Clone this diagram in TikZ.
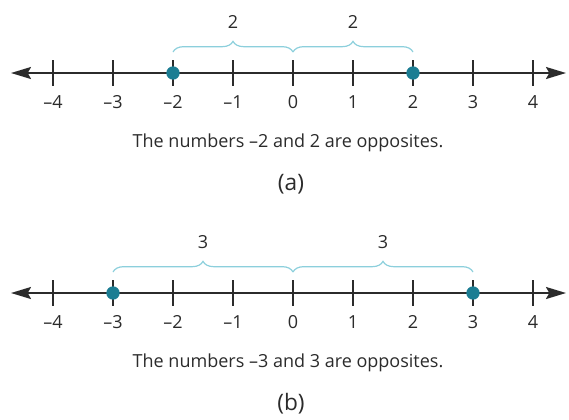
\documentclass[tikz,border=0pt]{standalone}
\usepackage{fontspec}
\setmainfont{Open Sans}
\usetikzlibrary{arrows.meta,decorations.pathreplacing}
\definecolor{gris}{HTML}{2B2B2B}
\definecolor{sarcelle}{HTML}{1B7D93}
\definecolor{cyanclair}{HTML}{8CCFDC}
\tikzset{
	droite/.style={draw=gris, line width=1.5pt, {Stealth[length=15pt,width=9pt,inset=2.5pt]}-{Stealth[length=15pt,width=9pt,inset=2.5pt]}},
	graduation/.style={draw=gris, line width=0.9pt},
	etiquette/.style={font=\fontsize{13.5}{16}\selectfont, text=gris, inner sep=1pt},
	soustitre/.style={font=\fontsize{17}{20}\selectfont, text=gris, inner sep=1pt},
	point/.style={circle, fill=sarcelle, inner sep=0pt, minimum size=10pt},
	accolade/.style={draw=cyanclair, line width=0.9pt, decorate, decoration={brace, amplitude=8pt}},
}
\begin{document}
\begin{tikzpicture}[x=0.75pt, y=-0.75pt]
		\useasboundingbox (0,0) rectangle (569,419);
		
		% Droite (a)
		\coordinate (ga) at (11,73);
		\coordinate (da) at (566,73);
		\draw[droite] (ga) -- (da);
		\foreach \n/\t [count=\i] in {-4/–4,-3/–3,-2/–2,-1/–1,0/0,1/1,2/2,3/3,4/4} {
			\draw[graduation] (293+60*\n,60) -- (293+60*\n,86);
			\node[etiquette] (ea\i) at (293+60*\n,102) {\t};
		}
		\coordinate (ba1) at (173,52);
		\coordinate (ba0) at (293,52);
		\coordinate (ba2) at (413,52);
		\draw[accolade] (ba1) -- (ba0);
		\draw[accolade] (ba0) -- (ba2);
		\node[etiquette] (la1) at (233,22) {2};
		\node[etiquette] (la2) at (353,22) {2};
		\node[point] (pa1) at (173,73) {};
		\node[point] (pa2) at (413,73) {};
		\node[etiquette] (ta) at (288,143) {The numbers –2 and 2 are opposites.};
		\node[soustitre] (a) at (291,184) {(a)};
		
		% Droite (b)
		\coordinate (gb) at (11,293);
		\coordinate (db) at (566,293);
		\draw[droite] (gb) -- (db);
		\foreach \n/\t [count=\i] in {-4/–4,-3/–3,-2/–2,-1/–1,0/0,1/1,2/2,3/3,4/4} {
			\draw[graduation] (293+60*\n,280) -- (293+60*\n,306);
			\node[etiquette] (eb\i) at (293+60*\n,322) {\t};
		}
		\coordinate (bb1) at (113,272);
		\coordinate (bb0) at (293,272);
		\coordinate (bb2) at (473,272);
		\draw[accolade] (bb1) -- (bb0);
		\draw[accolade] (bb0) -- (bb2);
		\node[etiquette] (lb1) at (203,242) {3};
		\node[etiquette] (lb2) at (383,242) {3};
		\node[point] (pb1) at (113,293) {};
		\node[point] (pb2) at (473,293) {};
		\node[etiquette] (tb) at (288,363) {The numbers –3 and 3 are opposites.};
		\node[soustitre] (b) at (291,404) {(b)};
	\end{tikzpicture}
\end{document}
